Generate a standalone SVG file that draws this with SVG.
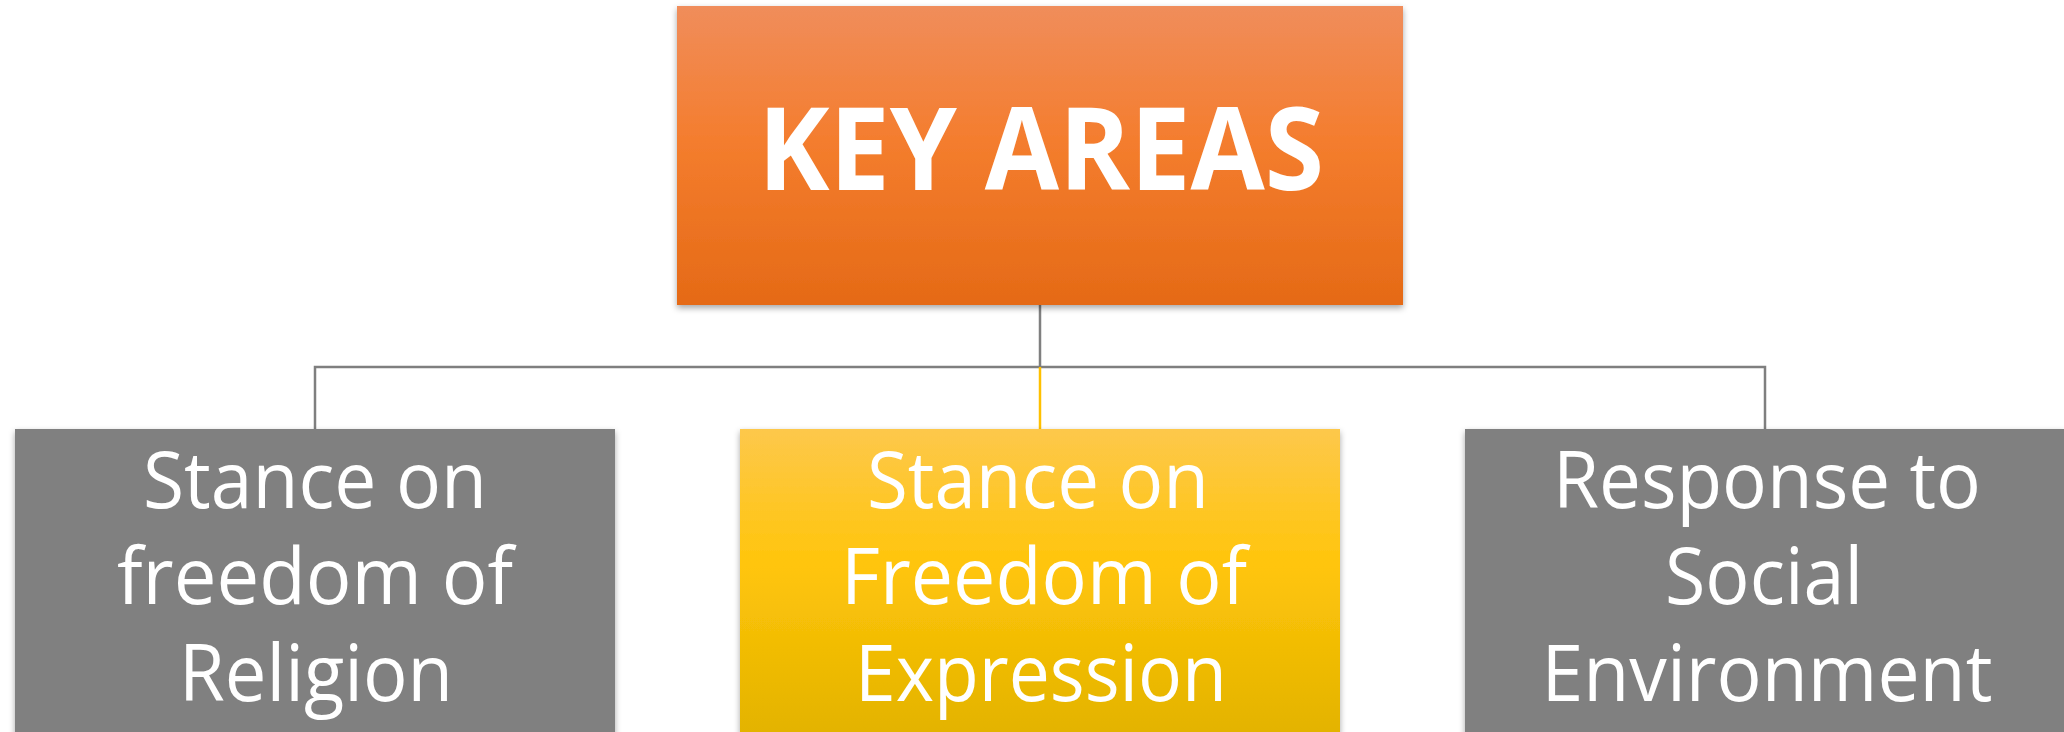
<svg xmlns="http://www.w3.org/2000/svg" width="2064" height="732" viewBox="0 0 2064 732">
  <defs>
    <linearGradient id="gOrange" x1="0" y1="0" x2="0" y2="1">
      <stop offset="0" stop-color="#F08D5B"/>
      <stop offset="0.45" stop-color="#F47D2E"/>
      <stop offset="1" stop-color="#E56A16"/>
    </linearGradient>
    <linearGradient id="gYellow" x1="0" y1="0" x2="0" y2="1">
      <stop offset="0" stop-color="#FDC84B"/>
      <stop offset="0.45" stop-color="#FFC50A"/>
      <stop offset="1" stop-color="#E3B300"/>
    </linearGradient>
    <filter id="shadow" x="-5%" y="-5%" width="110%" height="115%">
      <feDropShadow dx="0" dy="3" stdDeviation="3" flood-color="#000" flood-opacity="0.35"/>
    </filter>
  </defs>
  <style>
    .lbl { font-family: "Open Sans", "Liberation Sans", sans-serif; fill: #ffffff; text-anchor: middle; font-size: 79px; }
    .title { font-family: "Open Sans", "Liberation Sans", sans-serif; fill: #ffffff; text-anchor: middle; font-size: 114px; font-weight: bold; }
    .conn { stroke: #7f7f7f; stroke-width: 2.5; fill: none; }
  </style>
  <rect width="2064" height="732" fill="#ffffff"/>
  <g id="connectors">
    <line class="conn" x1="1040" y1="305" x2="1040" y2="367"/>
    <polyline class="conn" points="315,429 315,367 1765,367 1765,429"/>
    <line x1="1040" y1="367" x2="1040" y2="429" stroke="#FFC000" stroke-width="2.5"/>
  </g>
  <g id="key-areas">
    <rect x="677" y="6" width="726" height="299" fill="url(#gOrange)" filter="url(#shadow)"/>
    <text class="title" x="1041" y="190" textLength="566" lengthAdjust="spacingAndGlyphs">KEY AREAS</text>
  </g>
  <g id="religion">
    <rect x="15" y="429" width="600" height="305" fill="#808080" filter="url(#shadow)"/>
    <text class="lbl" x="315" y="508" textLength="344" lengthAdjust="spacingAndGlyphs">Stance on</text>
    <text class="lbl" x="315" y="604" textLength="396" lengthAdjust="spacingAndGlyphs">freedom of</text>
    <text class="lbl" x="316" y="701" textLength="274" lengthAdjust="spacingAndGlyphs">Religion</text>
  </g>
  <g id="expression">
    <rect x="740" y="429" width="600" height="305" fill="url(#gYellow)" filter="url(#shadow)"/>
    <text class="lbl" x="1038" y="508" textLength="342" lengthAdjust="spacingAndGlyphs">Stance on</text>
    <text class="lbl" x="1044" y="604" textLength="406" lengthAdjust="spacingAndGlyphs">Freedom of</text>
    <text class="lbl" x="1041" y="701" textLength="372" lengthAdjust="spacingAndGlyphs">Expression</text>
  </g>
  <g id="social">
    <rect x="1465" y="429" width="600" height="305" fill="#808080" filter="url(#shadow)"/>
    <text class="lbl" x="1767" y="508" textLength="428" lengthAdjust="spacingAndGlyphs">Response to</text>
    <text class="lbl" x="1764" y="604" textLength="198" lengthAdjust="spacingAndGlyphs">Social</text>
    <text class="lbl" x="1767" y="701" textLength="451" lengthAdjust="spacingAndGlyphs">Environment</text>
  </g>
</svg>
